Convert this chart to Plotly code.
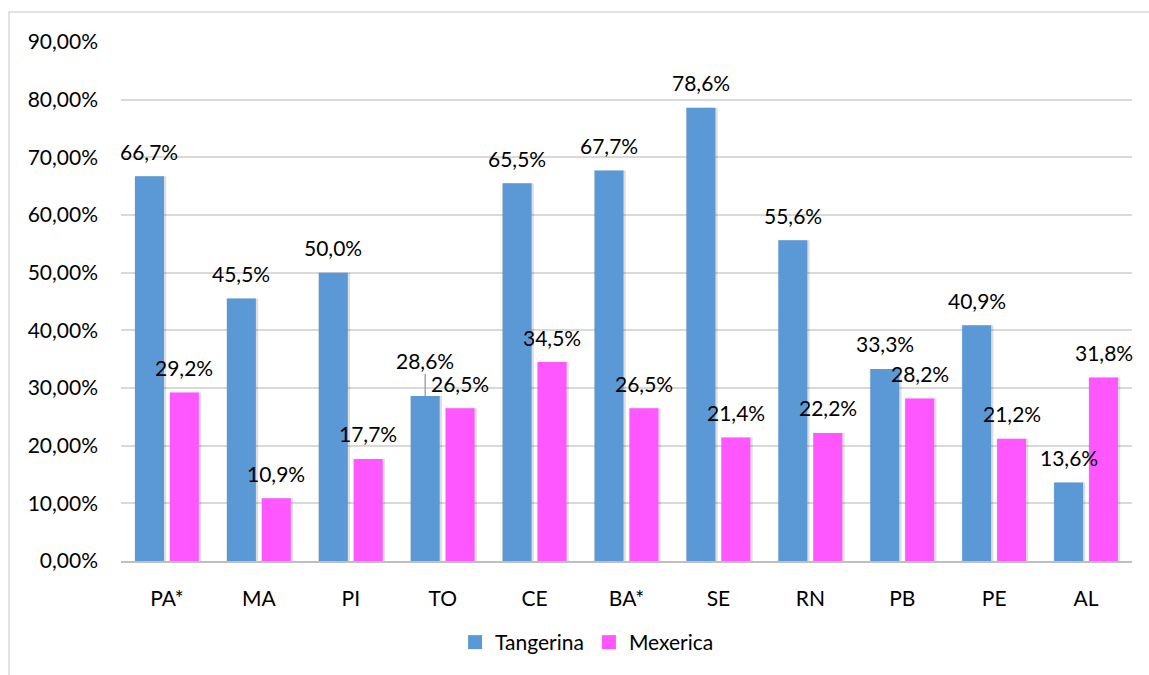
import plotly.graph_objects as go

categories = ["PA*", "MA", "PI", "TO", "CE", "BA*", "SE", "RN", "PB", "PE", "AL"]
tangerina = [0.667, 0.455, 0.500, 0.286, 0.655, 0.677, 0.786, 0.556, 0.333, 0.409, 0.136]
mexerica = [0.292, 0.109, 0.177, 0.265, 0.345, 0.265, 0.214, 0.222, 0.282, 0.212, 0.318]
series_names = ["Tangerina", "Mexerica"]
y_ticks = [0, 0.1, 0.2, 0.3, 0.4, 0.5, 0.6, 0.7, 0.8, 0.9]

BLUE = "#5b98d6"
PINK = "#ff57ff"
FONT = "Lato, 'Open Sans', sans-serif"
FS = 21
BAR_W = 0.315
CENTER_OFF = 0.19
SHADOW = "rgba(0,0,0,0.13)"

def fmt(v):
    return f"{v*100:.1f}%".replace(".", ",")

fig = go.Figure()
idx = list(range(len(categories)))

# soft shadows behind bars
for vals, sign in ((tangerina, -1), (mexerica, 1)):
    fig.add_trace(go.Bar(
        x=categories, y=vals, width=BAR_W + 0.03,
        offset=sign * CENTER_OFF - BAR_W / 2 - 0.005,
        marker=dict(color=SHADOW, line=dict(width=0)),
        showlegend=False, hoverinfo="skip"))

for vals, sign, color, name in ((tangerina, -1, BLUE, series_names[0]),
                                (mexerica, 1, PINK, series_names[1])):
    fig.add_trace(go.Bar(
        x=categories, y=vals, width=BAR_W,
        offset=sign * CENTER_OFF - BAR_W / 2,
        marker=dict(color=color, line=dict(width=0)),
        name=name, legendgroup=name, showlegend=False))

# square legend keys
for color, name in ((BLUE, series_names[0]), (PINK, series_names[1])):
    fig.add_trace(go.Scatter(
        x=[None], y=[None], mode="markers", name=name, legendgroup=name,
        marker=dict(symbol="square", size=14, color=color), hoverinfo="skip"))

annotations = []
for vals, sign in ((tangerina, -1), (mexerica, 1)):
    for i, v in zip(idx, vals):
        a = dict(x=i + sign * CENTER_OFF, y=v, xref="x", yref="y", text=fmt(v),
                 font=dict(family=FONT, size=FS, color="#000000"))
        if sign == -1 and categories[i] == "TO":
            a.update(showarrow=True, arrowhead=0, arrowwidth=1.5, arrowcolor="#a6a6a6",
                     ax=0, ay=-36, standoff=0)
        else:
            a.update(showarrow=False, yshift=25, yanchor="middle")
        annotations.append(a)

fig.update_layout(
    width=1149, height=675,
    margin=dict(l=121, r=17, t=42, b=112),
    paper_bgcolor="white", plot_bgcolor="white",
    barmode="overlay",
    separators=",.",
    font=dict(family=FONT, size=FS, color="#000000"),
    annotations=annotations,
    legend=dict(orientation="h", x=0.461, xanchor="center", y=-0.157, yanchor="middle",
                font=dict(family=FONT, size=FS), itemwidth=30,
                traceorder="normal"),
    shapes=[dict(type="rect", xref="paper", yref="paper",
                 x0=(9 - 121) / 1011, x1=(1160 - 121) / 1011,
                 y0=(563 - 685) / 521, y1=(563 - 12) / 521,
                 line=dict(color="#d9d9d9", width=1.5), layer="below")],
)
fig.update_xaxes(showgrid=False, showline=True, linecolor="#bfbfbf", linewidth=1.5,
                 ticks="", ticklabelstandoff=18,
                 tickfont=dict(family=FONT, size=FS), range=[-0.5, 10.5])
fig.update_yaxes(range=[0, 0.9], tickvals=y_ticks, tickformat=".2%",
                 showgrid=True, gridcolor="#d9d9d9", gridwidth=1.5,
                 zeroline=False, showline=False, ticks="", ticklabelstandoff=22,
                 tickfont=dict(family=FONT, size=FS))

fig.write_html("out.html", config={"displayModeBar": False},
               post_script="document.body.style.margin='0';document.body.style.overflow='hidden';")
